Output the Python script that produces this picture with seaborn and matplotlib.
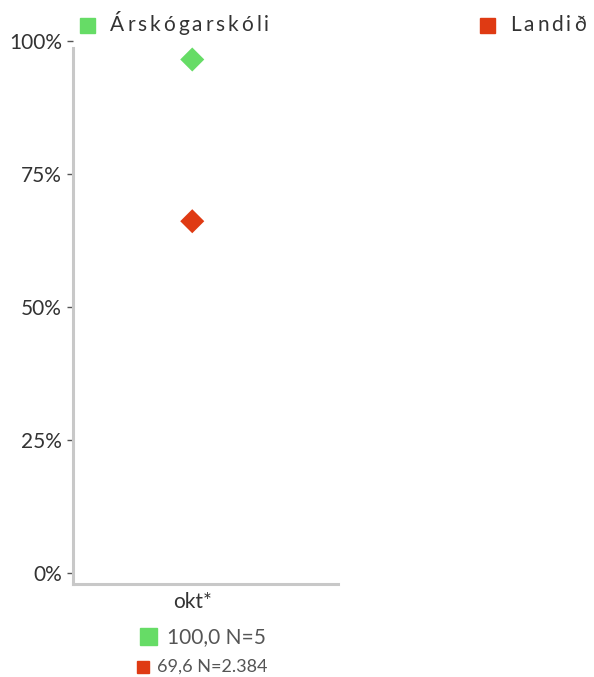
import matplotlib
matplotlib.use("Agg")
import matplotlib.pyplot as plt
import matplotlib.transforms as mtrans
import seaborn as sns
import pandas as pd

# data
categories = ["okt*"]
series = ["Árskógarskóli", "Landið"]
values = [100.0, 69.6]
counts = ["5", "2.384"]
value_labels = ["100,0", "69,6"]
colors = ["#66DC66", "#DF3A13"]
y_ticks = [0, 25, 50, 75, 100]
y_tick_labels = ["0%", "25%", "50%", "75%", "100%"]

df = pd.DataFrame({"period": [categories[0]] * len(series), "series": series, "value": values})

sns.set_theme(style="white")
plt.rcParams["font.family"] = ["Lato", "DejaVu Sans"]
TXT = "#333333"
W, H = 594, 677

fig = plt.figure(figsize=(5.94, 6.77), dpi=100)
ax = fig.add_axes([73 / W, 1 - 584 / H, (338 - 73) / W, (584 - 41) / H])

sns.scatterplot(data=df, x="period", y="value", hue="series", palette=colors,
                marker="D", s=150, linewidth=0, ax=ax, legend=False, zorder=3)

# marker offset as in reference (drawn slightly below value)
off = mtrans.ScaledTranslation(0, -18.5 / 100, fig.dpi_scale_trans)
for coll in ax.collections:
    coll.set_offset_transform(ax.transData + off)

ax.set_xlim(-0.45, 0.55)
ax.set_ylim(-2.07, 100)
ax.set_yticks(y_ticks)
ax.set_yticklabels(y_tick_labels)
ax.set_xticks([0])
ax.set_xticklabels(categories)
ax.set_xlabel("")
ax.set_ylabel("")
for s in ["top", "right"]:
    ax.spines[s].set_visible(False)
for s in ["left", "bottom"]:
    ax.spines[s].set_color("#C8C8C8")
    ax.spines[s].set_linewidth(2.2)
ax.spines["left"].set_bounds(-2.07, 98.7)
ax.tick_params(axis="y", length=4, width=1, color="#555555", pad=4,
               labelsize=15, labelcolor=TXT, left=True)
ax.tick_params(axis="x", length=0, pad=6, labelsize=15, labelcolor=TXT)

fig.canvas.draw()
renderer = fig.canvas.get_renderer()


def spaced_text(x_px, y_px, s, size, color, spacing_px):
    x = x_px
    for ch in s:
        t = fig.text(x / W, 1 - y_px / H, ch, fontsize=size, color=color,
                     ha="left", va="center")
        w = t.get_window_extent(renderer).width
        if ch == " ":
            w = size * 0.3
        x += w + spacing_px


# N labels under the category
fig.patches.append(plt.Rectangle((140 / W, 1 - 645 / H), 17 / W, 17 / H,
                                 transform=fig.transFigure, color=colors[0], figure=fig))
fig.text(167 / W, 1 - 637 / H, value_labels[0] + " N=" + counts[0],
         ha="left", va="center", fontsize=15, color="#555555")
fig.patches.append(plt.Rectangle((137 / W, 1 - 673 / H), 12 / W, 12 / H,
                                 transform=fig.transFigure, color=colors[1], figure=fig))
fig.text(157 / W, 1 - 667 / H, value_labels[1] + " N=" + counts[1],
         ha="left", va="center", fontsize=13, color="#555555")

# top legend
fig.patches.append(plt.Rectangle((80 / W, 1 - 33 / H), 15 / W, 15 / H,
                                 transform=fig.transFigure, color=colors[0], figure=fig))
spaced_text(110, 25, series[0], 15, TXT, 2.95)
fig.patches.append(plt.Rectangle((480 / W, 1 - 33 / H), 15 / W, 15 / H,
                                 transform=fig.transFigure, color=colors[1], figure=fig))
spaced_text(510, 25, series[1], 15, TXT, 2.95)

fig.savefig("out.png", dpi=100)
